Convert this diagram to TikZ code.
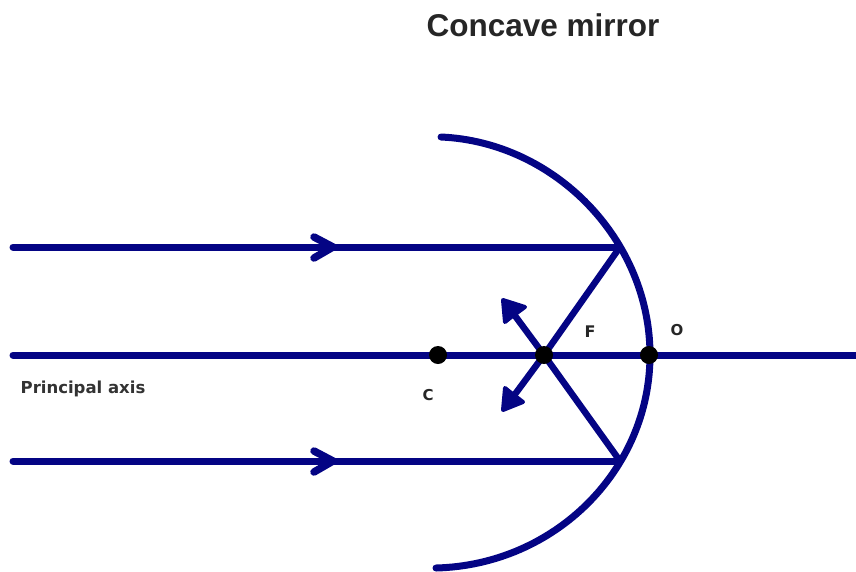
\documentclass[tikz,border=0pt]{standalone}
\usepackage{fontspec}
\setmainfont{Liberation Sans}
\newfontfamily\labelfont{DejaVu Sans}
\definecolor{raynavy}{RGB}{4,4,132}
\tikzset{
  ray/.style={draw=raynavy,line width=7pt,line cap=round,line join=round},
  thinray/.style={draw=raynavy,line width=6.5pt,line cap=round,line join=round},
  chevron/.style={draw=raynavy,line width=7.5pt,line cap=round,line join=miter},
  headfill/.style={draw=raynavy,fill=raynavy,line width=4pt,line join=round},
  dotmark/.style={circle,fill=black,inner sep=0pt,minimum size=18pt},
}
\begin{document}
\begin{tikzpicture}[x=1pt,y=-1pt]
\useasboundingbox (0,0) rectangle (856,571);
% anchors
\coordinate (topstart) at (13,247);
\coordinate (topend) at (620,247);
\coordinate (axisstart) at (13,355);
\coordinate (axisend) at (860,355);
\coordinate (botstart) at (13,461);
\coordinate (botend) at (620,461);
\coordinate (mirrortop) at (441,137);
\coordinate (mirrorbot) at (436,568);
\coordinate (tipup) at (503,300);
\coordinate (tipdown) at (503,410);
% mirror
\draw[ray] (mirrortop) .. controls (555,142) and (650,240) .. (650,355)
  .. controls (650,470) and (555,565) .. (mirrorbot);
% rays
\draw[ray] (topstart) -- (topend);
\draw[ray] (axisstart) -- (axisend);
\draw[ray] (botstart) -- (botend);
\node[dotmark,minimum size=0pt] (F) at (544,355) {};
\draw[thinray] (topend) -- (F.center);
\draw[thinray] (botend) -- (F.center);
\draw[thinray] (F.center) -- (510,309);
\draw[thinray] (F.center) -- (510,401);
% heads
\draw[headfill] (tipup) -- (525,307) -- (510,318) -- (505,322) -- cycle;
\draw[headfill] (tipdown) -- (523,402) -- (510,392) -- (505,388) -- cycle;
\draw[chevron] (314,237) -- (333,247) -- (314,258);
\draw[chevron] (314,451) -- (333,461) -- (314,472);
% dots
\node[dotmark] (Cdot) at (438,355) {};
\node[dotmark] (Fdot) at (544,355) {};
\node[dotmark] (Odot) at (649,355) {};
% labels
\node[font=\bfseries\fontsize{31.5pt}{36pt}\selectfont,text=black!85,inner sep=0pt] (title) at (543,25) {Concave mirror};
\node[font=\labelfont\bfseries\fontsize{15pt}{18pt}\selectfont,text=black!85,inner sep=0pt] (Clabel) at (428,395) {C};
\node[font=\labelfont\bfseries\fontsize{16pt}{19pt}\selectfont,text=black!85,inner sep=0pt] (Flabel) at (590,332) {F};
\node[font=\labelfont\bfseries\fontsize{15pt}{18pt}\selectfont,text=black!85,inner sep=0pt] (Olabel) at (677,330) {O};
\node[font=\labelfont\bfseries\fontsize{16.5pt}{20pt}\selectfont,text=black!80,inner sep=0pt] (axislabel) at (83,389) {Principal axis};
\end{tikzpicture}
\end{document}
